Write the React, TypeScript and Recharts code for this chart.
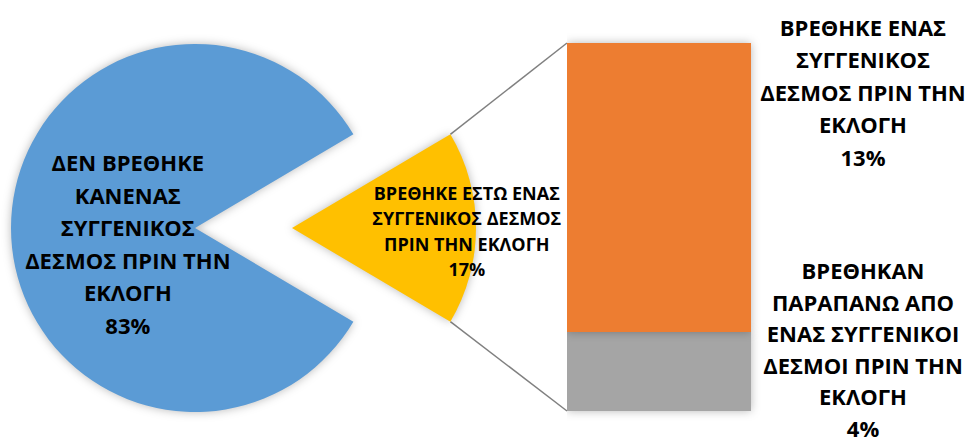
import { PieChart, Pie, Cell, BarChart, Bar, XAxis, YAxis, LabelList } from 'recharts';

// Πίτα: κύρια κατανομή
const pieCategories = [
  'ΔΕΝ ΒΡΕΘΗΚΕ ΚΑΝΕΝΑΣ ΣΥΓΓΕΝΙΚΟΣ ΔΕΣΜΟΣ ΠΡΙΝ ΤΗΝ ΕΚΛΟΓΗ',
  'ΒΡΕΘΗΚΕ ΕΣΤΩ ΕΝΑΣ ΣΥΓΓΕΝΙΚΟΣ ΔΕΣΜΟΣ ΠΡΙΝ ΤΗΝ ΕΚΛΟΓΗ',
];
const pieValues = [83, 17];
const pieLabelLines = [
  ['ΔΕΝ ΒΡΕΘΗΚΕ', 'ΚΑΝΕΝΑΣ', 'ΣΥΓΓΕΝΙΚΟΣ', 'ΔΕΣΜΟΣ ΠΡΙΝ ΤΗΝ', 'ΕΚΛΟΓΗ'],
  ['ΒΡΕΘΗΚΕ ΕΣΤΩ ΕΝΑΣ', 'ΣΥΓΓΕΝΙΚΟΣ ΔΕΣΜΟΣ', 'ΠΡΙΝ ΤΗΝ ΕΚΛΟΓΗ'],
];

// Μπάρα: ανάλυση του "ΒΡΕΘΗΚΕ ΕΣΤΩ ΕΝΑΣ"
const barCategories = [
  'ΒΡΕΘΗΚΕ ΕΝΑΣ ΣΥΓΓΕΝΙΚΟΣ ΔΕΣΜΟΣ ΠΡΙΝ ΤΗΝ ΕΚΛΟΓΗ',
  'ΒΡΕΘΗΚΑΝ ΠΑΡΑΠΑΝΩ ΑΠΟ ΕΝΑΣ ΣΥΓΓΕΝΙΚΟΙ ΔΕΣΜΟΙ ΠΡΙΝ ΤΗΝ ΕΚΛΟΓΗ',
];
const barValues = [13.35, 3.65];
const barLabelLines = [
  ['ΒΡΕΘΗΚΕ ΕΝΑΣ', 'ΣΥΓΓΕΝΙΚΟΣ', 'ΔΕΣΜΟΣ ΠΡΙΝ ΤΗΝ', 'ΕΚΛΟΓΗ'],
  ['ΒΡΕΘΗΚΑΝ', 'ΠΑΡΑΠΑΝΩ ΑΠΟ', 'ΕΝΑΣ ΣΥΓΓΕΝΙΚΟΙ', 'ΔΕΣΜΟΙ ΠΡΙΝ ΤΗΝ', 'ΕΚΛΟΓΗ'],
];

const PIE_COLORS = ['#5B9BD5', '#FFC000'];
const BAR_COLORS = ['#ED7D31', '#A5A5A5'];
const FONT = '"Open Sans", sans-serif';
const SHADOW = 'drop-shadow(0px 0px 5px rgba(0,0,0,0.28))';

// Layout
const W = 969;
const H = 446;
const R = 184;
const CY = 228;
const CX_MAIN = 195;
const CX_OTHER = 292;
const BAR_LEFT = 567;
const BAR_W = 184;
const BAR_TOP = 43;
const BAR_BOTTOM = 411;

const pieTotal = pieValues.reduce((a, b) => a + b, 0);
const halfOther = (180 * pieValues[1]) / pieTotal;
const pieData = pieCategories.map((name, i) => ({ name, value: pieValues[i] }));
const barTotal = barValues.reduce((a, b) => a + b, 0);
const barData = [{ name: 'other', one: barValues[0], more: barValues[1] }];

const RAD = Math.PI / 180;

// Θέσεις ετικετών ανά φέτα (μετατόπιση κατά μήκος ακτίνας, πρώτη γραμμή, διάστιχο, μέγεθος)
const pieLabelLayout = [
  { ratio: 0.365, firstDy: -57, lh: 32.6, size: 22 },
  { ratio: 0.95, firstDy: -28.5, lh: 25.5, size: 18 },
];

const makePieLabel = (visibleIndex: number) => (props: any) => {
  const { cx, cy, midAngle, outerRadius, index, percent } = props;
  if (index !== visibleIndex) return <g />;
  const lay = pieLabelLayout[index];
  const x = cx + outerRadius * lay.ratio * Math.cos(-midAngle * RAD);
  const y0 = cy + lay.firstDy;
  const lines = [...pieLabelLines[index], `${Math.round(percent * 100)}%`];
  return (
    <g>
      {lines.map((t, i) => (
        <text key={i} x={x} y={y0 + i * lay.lh} textAnchor="middle" fill="#000"
          fontFamily={FONT} fontWeight={700} fontSize={lay.size}>
          {t}
        </text>
      ))}
    </g>
  );
};

// μετατόπιση πρώτης γραμμής από την κορυφή του τμήματος, διάστιχο
const barLabelLayout = [
  { dy: -7, lh: 32.4 },
  { dy: -53, lh: 31.6 },
];

const makeBarLabel = (idx: number) => (props: any) => {
  const { x, y, width } = props;
  const cxText = x + width + 112;
  const lay = barLabelLayout[idx];
  const y0 = y + lay.dy;
  const lines = [...barLabelLines[idx], `${Math.round((barValues[idx] / pieTotal) * 100)}%`];
  return (
    <g>
      {lines.map((t, i) => (
        <text key={i} x={cxText} y={y0 + i * lay.lh} textAnchor="middle" fill="#000"
          fontFamily={FONT} fontWeight={700} fontSize={22}>
          {t}
        </text>
      ))}
    </g>
  );
};

export default function App() {
  const topEnd = { x: CX_OTHER + R * Math.cos(halfOther * RAD), y: CY - R * Math.sin(halfOther * RAD) };
  const botEnd = { x: topEnd.x, y: CY + R * Math.sin(halfOther * RAD) };

  return (
    <div style={{ position: 'relative', width: W, height: H, background: '#fff', overflow: 'hidden' }}>
      <style>{'body{margin:0}'}</style>

      {/* Γραμμές σύνδεσης πίτας - μπάρας */}
      <svg width={W} height={H} style={{ position: 'absolute', left: 0, top: 0 }}>
        <line x1={topEnd.x} y1={topEnd.y} x2={BAR_LEFT} y2={BAR_TOP} stroke="#808080" strokeWidth={1.5} />
        <line x1={botEnd.x} y1={botEnd.y} x2={BAR_LEFT} y2={BAR_BOTTOM} stroke="#808080" strokeWidth={1.5} />
      </svg>

      <div style={{ position: 'absolute', left: 0, top: 0 }}>
        <PieChart width={W} height={H} margin={{ top: 0, right: 0, bottom: 0, left: 0 }}>
          <Pie
            data={pieData}
            dataKey="value"
            cx={CX_MAIN}
            cy={CY}
            outerRadius={R}
            startAngle={halfOther}
            endAngle={halfOther + 360}
            stroke="none"
            labelLine={false}
            label={makePieLabel(0)}
            isAnimationActive={false}
          >
            {pieData.map((d, i) => (
              <Cell key={d.name} fill={i === 0 ? PIE_COLORS[0] : 'none'} style={i === 0 ? { filter: SHADOW } : undefined} />
            ))}
          </Pie>
          <Pie
            data={pieData}
            dataKey="value"
            cx={CX_OTHER}
            cy={CY}
            outerRadius={R}
            startAngle={halfOther}
            endAngle={halfOther + 360}
            stroke="none"
            labelLine={false}
            label={makePieLabel(1)}
            isAnimationActive={false}
          >
            {pieData.map((d, i) => (
              <Cell key={d.name} fill={i === 1 ? PIE_COLORS[1] : 'none'} style={i === 1 ? { filter: SHADOW } : undefined} />
            ))}
          </Pie>
        </PieChart>
      </div>

      <div style={{ position: 'absolute', left: BAR_LEFT, top: 0 }}>
        <BarChart
          width={W - BAR_LEFT}
          height={H}
          data={barData}
          margin={{ top: BAR_TOP, right: W - BAR_LEFT - BAR_W, bottom: H - BAR_BOTTOM, left: 0 }}
          barCategoryGap={0}
          style={{ overflow: 'visible' }}
        >
          <XAxis dataKey="name" hide />
          <YAxis hide domain={[0, barTotal]} />
          <Bar dataKey="more" stackId="a" fill={BAR_COLORS[1]} isAnimationActive={false} style={{ filter: SHADOW }}>
            <LabelList dataKey="more" content={makeBarLabel(1)} />
          </Bar>
          <Bar dataKey="one" stackId="a" fill={BAR_COLORS[0]} isAnimationActive={false} style={{ filter: SHADOW }}>
            <LabelList dataKey="one" content={makeBarLabel(0)} />
          </Bar>
        </BarChart>
      </div>
    </div>
  );
}
